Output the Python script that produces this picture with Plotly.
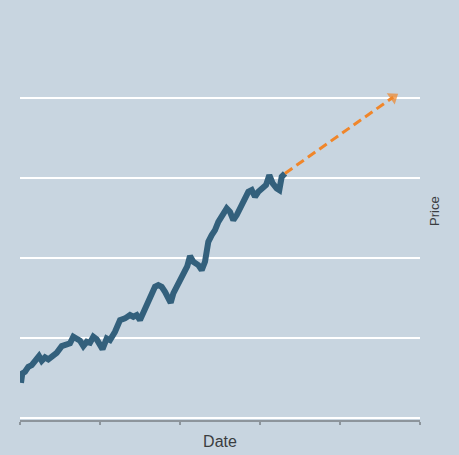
import plotly.graph_objects as go

# Price history (time index, price)
days = [0.25, 0.58, 1.25, 2.08, 2.93, 3.93, 4.75, 5.43, 6.25, 7.08, 8.33, 9.18,
        10.43, 11.68, 12.5, 13.33, 14.18, 15.0, 15.83, 16.68, 17.5, 18.33, 19.18,
        20.0, 20.63, 21.68, 22.5, 23.75, 25.0, 26.25, 27.5, 28.33, 29.18, 30.0,
        30.83, 31.68, 32.5, 33.75, 34.58, 35.43, 36.25, 37.08, 37.68, 38.33,
        39.33, 40.43, 41.25, 41.83, 42.5, 43.33, 44.58, 45.43, 46.25, 47.08,
        47.93, 48.75, 49.58, 50.83, 51.68, 52.5, 53.33, 54.18, 55.43, 56.25,
        57.08, 57.93, 58.75, 59.58, 60.43, 61.5, 62.33, 63.18, 64.18, 64.83,
        65.43, 66.25]
price = [11.03, 13.97, 14.47, 16.03, 16.56, 18.13, 19.38, 17.91, 18.97, 18.34,
         19.69, 20.41, 22.5, 22.81, 23.34, 25.41, 24.91, 24.16, 22.5, 23.84,
         23.53, 25.41, 24.59, 22.81, 21.56, 24.91, 24.38, 26.97, 30.63, 31.16,
         32.19, 31.66, 32.19, 30.63, 32.72, 35.84, 37.91, 41.03, 41.56, 41.03,
         39.47, 36.88, 36.03, 38.97, 41.56, 43.66, 45.63, 47.5, 50.63, 48.84,
         47.81, 46.25, 48.84, 55.09, 57.19, 58.75, 61.34, 63.44, 65.53, 64.47,
         61.88, 63.44, 66.56, 68.66, 70.72, 71.25, 69.16, 70.72, 71.78, 72.81,
         75.94, 73.34, 71.78, 71.25, 75.41, 76.47]

# Projected trend: from last observed price to the target
forecast_days = [66.25, 93.3]
forecast_price = [76.47, 100.3]

x_ticks = [0, 20, 40, 60, 80, 100]
y_ticks = [0, 25, 50, 75, 100]

BG = "#c8d5e0"
LINE = "#33607c"
ORANGE = "#f0862a"
TEXT = "#3a3d40"

fig = go.Figure()

fig.add_trace(go.Scatter(
    x=days, y=price, mode="lines",
    line=dict(color=LINE, width=6, shape="linear"),
    hoverinfo="skip",
))

# dashed projection line
fig.add_trace(go.Scatter(
    x=forecast_days, y=forecast_price, mode="lines",
    line=dict(color=ORANGE, width=3, dash="9px,5px"),
    hoverinfo="skip",
))

# arrow head at the projected target, oriented along the projection
fig.add_trace(go.Scatter(
    x=forecast_days, y=forecast_price, mode="markers",
    marker=dict(symbol="triangle-up", size=[0, 12], color=ORANGE,
                angleref="previous", line=dict(width=0)),
    hoverinfo="skip",
))

fig.update_layout(
    width=459, height=455,
    margin=dict(l=20, r=39, t=21, b=35),
    paper_bgcolor=BG, plot_bgcolor=BG,
    showlegend=False,
    font=dict(family="Liberation Sans, Arial, sans-serif", size=13, color=TEXT),
    xaxis=dict(
        range=[0, 100], tickvals=x_ticks, showticklabels=False,
        showgrid=False, zeroline=False,
        showline=True, linecolor="#8d959c", linewidth=1.5,
        ticks="outside", ticklen=3, tickcolor="#8d959c", tickwidth=1.5,
        title=dict(text="Date", standoff=12),
        automargin=False,
    ),
    yaxis=dict(
        range=[-0.6, 124.1], tickvals=y_ticks, showticklabels=False,
        side="right",
        showgrid=True, gridcolor="#ffffff", gridwidth=2,
        zeroline=False, showline=False, ticks="",
        automargin=False,
    ),
    annotations=[dict(
        text="Price", textangle=-90, showarrow=False,
        xref="paper", yref="paper", x=1, y=0.524,
        xanchor="center", yanchor="middle", xshift=15,
        font=dict(size=13, color=TEXT),
    )],
)

fig.write_html("out.html")
